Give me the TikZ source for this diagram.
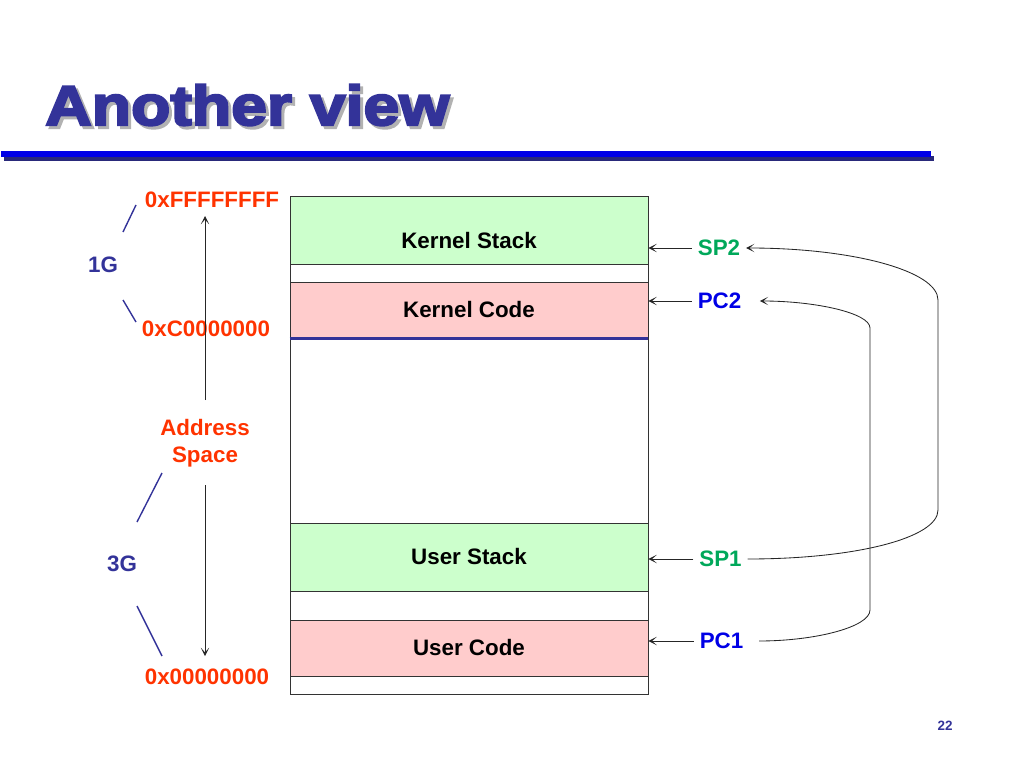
\documentclass[tikz,border=0pt]{standalone}
\usepackage{fontspec}
\setmainfont{Liberation Sans}
\newfontfamily\titlefont[FakeBold=4,FakeStretch=1.15]{Liberation Sans Bold}
\usetikzlibrary{arrows, arrows.meta}
\definecolor{addrred}{RGB}{255, 51, 0}
\definecolor{navy}{RGB}{51, 51, 153}
\definecolor{spgreen}{RGB}{0, 168, 90}
\definecolor{pcblue}{RGB}{0, 0, 230}
\definecolor{stackgreen}{RGB}{204, 255, 204}
\definecolor{codepink}{RGB}{255, 204, 204}
\definecolor{rulblue}{RGB}{0, 0, 230}
\newcommand\boxfont{\fontsize{15.9}{19}\selectfont\bfseries}
\newcommand\titlesize{\titlefont\fontsize{39.8}{48}\selectfont}

\begin{document}
\begin{tikzpicture}[x=0.025cm,y=-0.025cm,
  lbl/.style={font=\boxfont, inner sep=0pt},
  addr/.style={lbl, text=addrred},
  size/.style={lbl, text=navy},
  reg/.style={font=\boxfont, inner xsep=4pt, inner ysep=0pt},
  block/.style={draw=black!80, line width=0.6pt, minimum width=8.95cm, inner sep=0pt, font=\boxfont},
  arr/.style={-{Stealth[length=6pt,width=6pt,inset=3.5pt]}, line width=0.6pt, black!85},
  slant/.style={navy, line width=1pt}]
\def\fx{290}
\def\fX{648}
\def\tx{938}
\def\px{870}

\useasboundingbox (0,0) rectangle (1024,768);

%title with its shadow
\node[anchor=base west, text=black!30, font=\titlesize, inner sep=0pt] (titleshadow) at (48,128) {Another view};
\node[anchor=base west, text=navy, font=\titlesize, inner sep=0pt] (title) at (45,125) {Another view};

%rule under the title
\fill[navy!80!black] (4,156) rectangle (934,161);
\fill[rulblue] (1,151) rectangle (931,157);

%address space frame
\draw[black!80, line width=0.6pt] (\fx,196) rectangle (\fX,694);

%memory regions
\node[block, fill=stackgreen, minimum height=1.7cm] (kstack) at (469,230) {};
\node[lbl] (kstacktxt) at (469,241) {Kernel Stack};
\node[block, fill=codepink, minimum height=1.4cm] (kcode) at (469,310) {Kernel Code};
\draw[navy, line width=1.6pt] (kcode.south west) -- (kcode.south east);
\node[block, fill=stackgreen, minimum height=1.7cm] (ustack) at (469,557) {User Stack};
\node[block, fill=codepink, minimum height=1.4cm] (ucode) at (469,648) {User Code};

%addresses on the left
\node[addr] (ffff) at (212,200) {0xFFFFFFFF};
\node[addr] (c000) at (206,329) {0xC0000000};
\node[addr] (zero) at (207,677) {0x00000000};
\node[addr, align=center] (space) at (205,443) {Address\\Space};
\node[size] (oneg) at (103,265) {1G};
\node[size] (threeg) at (122,564) {3G};

\coordinate (upfoot) at (205,400);
\coordinate (uptip) at (205,216);
\coordinate (downfoot) at (205,485);
\coordinate (downtip) at (205,656);
\draw[arr] (upfoot) -- (uptip);
\draw[arr] (downfoot) -- (downtip);

\draw[slant] (123,232) -- (136,205);
\draw[slant] (123,300) -- (136,322);
\draw[slant] (137,522) -- (162,473);
\draw[slant] (137,606) -- (162,656);

%registers on the right
\node[reg, text=spgreen] (sp2) at (719,248) {SP2};
\node[reg, text=pcblue] (pc2) at (719.5,301) {PC2};
\node[reg, text=spgreen] (sp1) at (720.5,559) {SP1};
\node[reg, text=pcblue] (pc1) at (721.5,641) {PC1};

\draw[arr] (sp2.west) -- (sp2.west -| kstack.east);
\draw[arr] (pc2.west) -- (pc2.west -| kcode.east);
\draw[arr] (sp1.west) -- (sp1.west -| ustack.east);
\draw[arr] (pc1.west) -- (pc1.west -| ucode.east);

%saved registers
\coordinate (splow) at (\tx,510);
\coordinate (sphigh) at (\tx,300);
\coordinate (pclow) at (\px,610);
\coordinate (pchigh) at (\px,328);
\draw[arr] (sp1.east) .. controls +(108,0) and +(0,28) .. (splow) -- (sphigh)
  .. controls +(0,-29) and +(107,0) .. (sp2.east);
\draw[arr, shorten <=7pt, shorten >=9pt] (pc1.east) .. controls +(66,0) and +(0,17) .. (pclow) -- (pchigh)
  .. controls +(0,-15) and +(68,0) .. (pc2.east);

\node[text=navy, font=\fontsize{9.6}{11}\selectfont\bfseries] (pageno) at (945,726) {22};

\end{tikzpicture}
\end{document}
